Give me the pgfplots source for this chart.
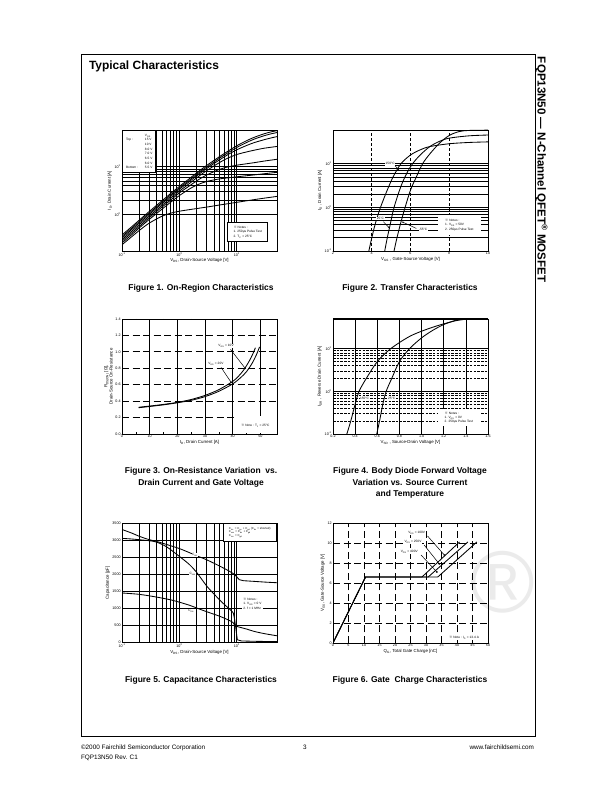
\documentclass[border=0pt]{standalone}
\usepackage{fontspec}
\setmainfont{Liberation Sans}
\newfontfamily\cjk{Noto Sans CJK SC}
\usepackage{pgfplots}
\pgfplotsset{compat=1.18}
\usetikzlibrary{arrows.meta}
\newcommand\rmk{{\cjk ※}}
\newcommand\tkf{\fontsize{3.7}{4}\selectfont}
\newcommand\nf{\fontsize{3.2}{4.2}\selectfont}
\tikzset{
 crv/.style={black, line width=0.85bp},
 gs/.style={black, line width=0.9bp, solid},
}
\pgfplotsset{
 ds/.style={
  scale only axis, width=155bp, height=121bp, anchor=north west,
  axis line style={line width=0.9bp},
  major tick length=0pt, minor tick length=0pt,
  tick label style={font=\tkf, inner sep=1.2bp},
  every axis label/.append style={font=\fontsize{4.4}{5.3}\selectfont},
  xlabel style={yshift=2.5bp}, ylabel style={yshift=-2bp},
 },
}
\begin{document}
\begin{tikzpicture}[x=1bp,y=1bp]
\path[use as bounding box, fill=white] (0,0) rectangle (612,792);
% watermark
\node[text=black!8, font=\fontsize{88}{88}\selectfont] at (503,792-582) {®};
% frame
\draw[line width=0.9bp] (81,792-54) rectangle (535,792-736);
\begin{scope}[every node/.style={inner sep=0pt, outer sep=0pt}]
\node[anchor=base west, font=\fontsize{12}{14}\selectfont\bfseries] at (89,792-69.5) {Typical Characteristics};
\node[rotate=-90, anchor=base west, font=\fontsize{11.6}{14}\selectfont\bfseries] at (537.5,792-57) {FQP13N50 — N-Channel QFET\textsuperscript{®} MOSFET};
% footer
\node[anchor=base west, font=\fontsize{6.4}{7}\selectfont] at (81,792-749.5) {©2000 Fairchild Semiconductor Corporation};
\node[anchor=base west, font=\fontsize{6.4}{7}\selectfont] at (81,792-759.5) {FQP13N50 Rev. C1};
\node[anchor=base, font=\fontsize{6.4}{7}\selectfont] at (305,792-749.5) {3};
\node[anchor=base east, font=\fontsize{6.4}{7}\selectfont] at (534,792-749.5) {www.fairchildsemi.com};
\end{scope}
% captions
\begin{scope}[every node/.style={font=\fontsize{8.5}{11.8}\selectfont\bfseries, align=center, inner sep=0pt}]
\node[anchor=base] at (201,792-290.5) {Figure 1. On-Region Characteristics};
\node[anchor=base] at (410,792-290.5) {Figure 2. Transfer Characteristics};
\node[anchor=north] at (201,792-467) {Figure 3. On-Resistance Variation~~vs.\\Drain Current and Gate Voltage};
\node[anchor=north] at (410,792-467) {Figure 4. Body Diode Forward Voltage\\Variation vs. Source Current\\and Temperature};
\node[anchor=base] at (201,792-683) {Figure 5. Capacitance Characteristics};
\node[anchor=base] at (410,792-683) {Figure 6. Gate~~Charge Characteristics};
\end{scope}

%%%%%%%%%%%%%%%% Figure 1
\begin{axis}[ds, at={(122bp,662bp)}, xmode=log, ymode=log,
  xmin=0.1, xmax=50, ymin=0.17, ymax=60,
  xtick={0.1,1,10}, xticklabels={10\textsuperscript{-1},10\textsuperscript{0},10\textsuperscript{1}},
  ytick={1,10}, yticklabels={10\textsuperscript{0},10\textsuperscript{1}},
  grid=both, major grid style={gs}, minor grid style={gs},
  xlabel={V\textsubscript{DS}, Drain-Source Voltage [V]},
  ylabel={I\textsubscript{D}, Drain Current [A]}]
\addplot[crv, smooth] coordinates {(0.1,0.37)(0.15,0.56)(0.2,0.76)(0.3,1.16)(0.5,1.95)(0.7,2.75)(1,3.9)(1.5,5.7)(2,7.5)(3,10.8)(5,16.5)(7,21.5)(10,28)(15,36)(20,42)(30,50)(40,55)(50,58)};
\addplot[crv, smooth] coordinates {(0.1,0.345)(0.15,0.52)(0.2,0.71)(0.3,1.08)(0.5,1.81)(0.7,2.56)(1,3.63)(1.5,5.3)(2,7.0)(3,10.0)(5,15.3)(7,19.9)(10,25.8)(15,33)(20,38.5)(30,45.5)(40,50)(50,53)};
\addplot[crv, smooth] coordinates {(0.1,0.32)(0.15,0.49)(0.2,0.66)(0.3,1.01)(0.5,1.7)(0.7,2.39)(1,3.4)(1.5,4.95)(2,6.5)(3,9.3)(5,14.1)(7,18.2)(10,23)(15,28.5)(20,32.5)(30,37.5)(40,41)(50,43.5)};
\addplot[crv, smooth] coordinates {(0.1,0.296)(0.15,0.45)(0.2,0.61)(0.3,0.93)(0.5,1.56)(0.7,2.2)(1,3.1)(1.5,4.5)(2,5.9)(3,8.4)(5,12.4)(7,15.4)(10,18.3)(15,20.8)(20,22.5)(30,24.8)(50,27)};
\addplot[crv, smooth] coordinates {(0.1,0.274)(0.15,0.415)(0.2,0.56)(0.3,0.86)(0.5,1.44)(0.7,2.0)(1,2.85)(1.5,4.0)(2,5.1)(3,6.8)(5,8.9)(7,10.0)(10,10.9)(15,11.7)(20,12.3)(30,13.3)(50,14.5)};
\addplot[crv, smooth] coordinates {(0.1,0.252)(0.15,0.38)(0.2,0.52)(0.3,0.79)(0.5,1.3)(0.7,1.8)(1,2.5)(1.5,3.45)(2,4.15)(3,4.95)(5,5.6)(7,5.9)(10,6.2)(20,6.8)(30,7.2)(50,7.7)};
\addplot[crv, smooth] coordinates {(0.1,0.23)(0.15,0.345)(0.2,0.46)(0.3,0.66)(0.5,0.92)(0.7,1.06)(1,1.17)(2,1.33)(3,1.43)(5,1.58)(10,1.8)(20,2.05)(30,2.2)(50,2.4)};
\node[draw, fill=white, line width=0.6bp, anchor=north west, inner sep=1.2bp,
  font=\fontsize{3.2}{4.7}\selectfont, minimum width=33bp, minimum height=42bp]
  at (rel axis cs:0.003,0.997)
  {\begin{tabular}{@{}l@{\hspace{7bp}}l@{}}
   & V\textsubscript{GS}\\
   Top : & 15 V\\ & 10 V\\ & 8.0 V\\ & 7.0 V\\ & 6.5 V\\ & 6.0 V\\
   Bottom : & 5.5 V
  \end{tabular}};
\node[draw, fill=white, line width=0.6bp, anchor=south west, inner sep=1.5bp, align=left,
  font=\nf, minimum width=40bp, minimum height=19bp]
  at (rel axis cs:0.68,0.074)
  {\rmk\ Notes :\\ 1. 250μs Pulse Test\\ 2. T\textsubscript{C} = 25°C};
\end{axis}

%%%%%%%%%%%%%%%% Figure 2
\begin{axis}[ds, at={(333bp,662bp)}, ymode=log,
  xmin=2, xmax=10, ymin=0.1, ymax=60,
  xtick={2,4,6,8,10}, xticklabels={2,4,6,8,10},
  ytick={0.1,1,10}, yticklabels={10\textsuperscript{-1},10\textsuperscript{0},10\textsuperscript{1}},
  ymajorgrids, yminorgrids,
  major grid style={gs}, minor grid style={gs},
  xlabel={V\textsubscript{GS} , Gate-Source Voltage [V]},
  ylabel={I\textsubscript{D} , Drain Current [A]}]
\draw[black, line width=0.6bp, dash pattern=on 3bp off 2bp] (axis cs:4,0.1) -- (axis cs:4,60);
\draw[black, line width=0.6bp, dash pattern=on 3bp off 2bp] (axis cs:6,0.1) -- (axis cs:6,60);
\draw[black, line width=0.6bp, dash pattern=on 3bp off 2bp] (axis cs:8,0.1) -- (axis cs:8,60);
\addplot[crv, smooth] coordinates {(3.85,0.1)(4.0,0.2)(4.2,0.45)(4.45,1.0)(4.8,2.5)(5.1,5)(5.5,10)(6.0,16)(6.5,21)(7.0,25)(8,29)(9,31)(10,32)};
\addplot[crv, smooth] coordinates {(4.67,0.1)(4.8,0.2)(4.95,0.4)(5.15,1)(5.5,3)(5.8,6)(6.1,10)(6.5,16)(7.0,25)(7.5,33)(8,39)(9,44)(10,46)};
\addplot[crv, smooth] coordinates {(5.15,0.1)(5.3,0.2)(5.5,0.45)(5.72,1)(6.0,2.5)(6.3,5)(6.62,10)(7.0,17)(7.5,30)(8,45)(8.5,55)(9,58.5)(10,59.5)};
\node[font=\nf, fill=white, inner sep=0.5bp] (a) at (axis cs:4.95,10) {150°C};
\draw[-{Stealth[length=2bp]}, line width=0.5bp] (axis cs:5.2,9) -- (axis cs:5.42,7.2);
\node[font=\nf, fill=white, inner sep=0.5bp] at (axis cs:4.45,0.55) {25°C};
\draw[-{Stealth[length=2bp]}, line width=0.5bp] (axis cs:4.6,0.47) -- (axis cs:4.93,0.33);
\node[font=\nf, fill=white, inner sep=0.5bp] at (axis cs:6.65,0.31) {-55°C};
\draw[-{Stealth[length=2bp]}, line width=0.5bp] (axis cs:6.3,0.33) -- (axis cs:5.55,0.47);
\node[fill=white, anchor=south west, inner sep=1.5bp, align=left, font=\nf,
  minimum width=43bp, minimum height=20bp]
  at (rel axis cs:0.675,0.13)
  {\rmk\ Notes :\\ 1. V\textsubscript{DS} = 50V\\ 2. 250μs Pulse Test};
\end{axis}

%%%%%%%%%%%%%%%% Figure 3
\begin{axis}[ds, at={(122bp,473bp)}, height=115bp,
  xmin=0, xmax=56, ymin=0, ymax=1.4,
  xtick={0,10,20,30,40,50}, xticklabels={0,10,20,30,40,50},
  minor x tick num=1, minor tick length=1.5bp,
  minor tick style={black, line width=0.5bp},
  ytick={0,0.2,0.4,0.6,0.8,1.0,1.2,1.4},
  yticklabels={0.0,0.2,0.4,0.6,0.8,1.0,1.2,1.4},
  xmajorgrids, ymajorgrids,
  x grid style={gs}, y grid style={black, line width=0.8bp, dash pattern=on 7bp off 3.5bp},
  xlabel={I\textsubscript{D}, Drain Current [A]},
  ylabel style={align=center},
  ylabel={R\textsubscript{DS(ON)} [Ω],\\Drain-Source On-Resistance}]
\fill[white] (axis cs:40.3,0.006) rectangle (axis cs:55.85,0.215);
\addplot[crv, smooth] coordinates {(6,0.32)(10,0.335)(15,0.355)(20,0.38)(25,0.41)(30,0.455)(35,0.52)(40,0.61)(43,0.69)(45,0.76)(47,0.86)(48.5,0.96)(49.7,1.06)};
\addplot[crv, smooth] coordinates {(6,0.325)(10,0.34)(15,0.36)(20,0.385)(25,0.42)(30,0.47)(35,0.54)(40,0.64)(42,0.7)(44,0.78)(46,0.89)(47.2,0.97)(48.2,1.05)};
\node[font=\nf, fill=white, inner sep=0.6bp] at (axis cs:37.6,1.07) {V\textsubscript{GS} = 10V};
\draw[line width=0.5bp] (axis cs:39.2,1.03) -- (axis cs:44.5,0.8);
\fill (axis cs:44.5,0.8) circle (0.9bp);
\node[font=\nf, fill=white, inner sep=0.6bp] at (axis cs:33.9,0.85) {V\textsubscript{GS} = 20V};
\draw[line width=0.5bp] (axis cs:35.8,0.81) -- (axis cs:39.4,0.63);
\fill (axis cs:39.4,0.63) circle (0.9bp);
\node[font=\nf] at (axis cs:48.2,0.1) {\rmk\ Note : T\textsubscript{J} = 25°C};
\end{axis}

%%%%%%%%%%%%%%%% Figure 4
\begin{axis}[ds, at={(333bp,473bp)}, height=115bp, ymode=log,
  xmin=0.2, xmax=1.6, ymin=0.1, ymax=50,
  xtick={0.2,0.4,0.6,0.8,1.0,1.2,1.4,1.6},
  xticklabels={0.2,0.4,0.6,0.8,1.0,1.2,1.4,1.6},
  ytick={0.1,1,10}, yticklabels={10\textsuperscript{-1},10\textsuperscript{0},10\textsuperscript{1}},
  xmajorgrids, ymajorgrids, yminorgrids,
  major grid style={black, line width=0.9bp},
  minor grid style={black, line width=0.6bp, dash pattern=on 2.5bp off 1.2bp},
  x grid style={black, line width=0.5bp},
  xlabel={V\textsubscript{SD} , Source-Drain Voltage [V]},
  ylabel={I\textsubscript{DR} , Reverse Drain Current [A]}]
\addplot[crv, smooth] coordinates {(0.325,0.1)(0.36,0.2)(0.4,0.5)(0.435,1)(0.5,2)(0.6,5)(0.72,10)(0.9,20)(1.1,32)(1.3,45)(1.42,50)};
\addplot[crv, smooth] coordinates {(0.595,0.1)(0.62,0.2)(0.65,0.5)(0.68,1)(0.73,2)(0.8,5)(0.89,10)(1.0,18)(1.1,27)(1.2,37)(1.3,46)(1.36,50)};
\draw[line width=1.4bp] (rel axis cs:0,1) -- (rel axis cs:1,1);
\node[font=\nf, fill=white, inner sep=0.5bp] at (axis cs:0.485,0.7) {150°C};
\node[font=\nf, fill=white, inner sep=0.5bp] at (axis cs:0.73,0.7) {25°C};
\node[fill=white, anchor=south west, inner sep=1.5bp, align=left, font=\nf,
  minimum width=42bp, minimum height=17bp]
  at (rel axis cs:0.675,0.067)
  {\rmk\ Notes :\\ 1. V\textsubscript{GS} = 0V\\ 2. 250μs Pulse Test};
\end{axis}

%%%%%%%%%%%%%%%% Figure 5
\begin{axis}[ds, at={(122bp,269bp)}, height=119.5bp, xmode=log,
  xmin=0.1, xmax=50, ymin=0, ymax=3500,
  xtick={0.1,1,10}, xticklabels={10\textsuperscript{-1},10\textsuperscript{0},10\textsuperscript{1}},
  ytick={0,500,1000,1500,2000,2500,3000,3500},
  yticklabels={0,500,1000,1500,2000,2500,3000,3500},
  xmajorgrids, xminorgrids, ymajorgrids,
  grid style={gs}, minor grid style={gs},
  xlabel={V\textsubscript{DS}, Drain-Source Voltage [V]},
  ylabel={Capacitance [pF]}]
\addplot[crv, smooth] coordinates {(0.1,3310)(0.15,3200)(0.2,3110)(0.3,3010)(0.4,2960)(0.6,2870)(1,2750)(1.5,2630)(2,2540)(3,2420)(5,2240)(7,2110)(9,2000)};
\addplot[crv] coordinates {(9,2000)(10,1920)(11,1840)(13,1810)(20,1790)(30,1770)(50,1750)};
\addplot[crv, smooth] coordinates {(0.1,3050)(0.15,3030)(0.2,3010)(0.3,2980)(0.4,2940)(0.6,2800)(1,2520)(1.5,2280)(2,2050)(3,1650)(4,1420)(5,1250)(6,1120)(7,1020)(8,930)(8.7,860)};
\addplot[crv] coordinates {(8.7,860)(9.2,650)(9.7,350)(10.2,80)(12,45)(20,35)(50,25)};
\addplot[crv, smooth] coordinates {(0.1,1450)(0.2,1410)(0.4,1330)(0.7,1250)(1,1180)(1.5,1090)(2,1010)(3,900)(5,770)(7,665)(8.5,590)(9.1,520)(10,470)};
\addplot[crv, smooth] coordinates {(10,470)(15,390)(20,325)(30,260)(50,196)};
\node[font=\nf, fill=white, inner sep=0.4bp] at (axis cs:1.85,2560) {C\textsubscript{iss}};
\node[font=\nf, fill=white, inner sep=0.4bp] at (axis cs:1.7,2000) {C\textsubscript{oss}};
\node[font=\nf, fill=white, inner sep=0.4bp] at (axis cs:1.6,930) {C\textsubscript{rss}};
\node[draw, fill=white, line width=0.6bp, anchor=north east, inner sep=1.2bp, align=left,
  font=\fontsize{2.9}{3.6}\selectfont, minimum width=53bp, minimum height=18bp]
  at (rel axis cs:0.997,0.997)
  {C\textsubscript{iss} = C\textsubscript{gs} + C\textsubscript{gd} (C\textsubscript{ds} = shorted)\\
   C\textsubscript{oss} = C\textsubscript{ds} + C\textsubscript{gd}\\
   C\textsubscript{rss} = C\textsubscript{gd}};
\node[fill=white, anchor=south west, inner sep=1.2bp, align=left, font=\nf,
  minimum width=20bp, minimum height=15bp]
  at (rel axis cs:0.774,0.26)
  {\rmk\ Notes :\\ 1. V\textsubscript{GS} = 0 V\\ 2. f = 1 MHz};
\end{axis}

%%%%%%%%%%%%%%%% Figure 6
\begin{axis}[ds, at={(333bp,269bp)}, height=120bp,
  xmin=0, xmax=50, ymin=0, ymax=12,
  xtick={0,5,10,15,20,25,30,35,40,45,50},
  xticklabels={0,5,10,15,20,25,30,35,40,45,50},
  ytick={0,2,4,6,8,10,12}, yticklabels={0,2,4,6,8,10,12},
  grid=major, grid style={black, line width=0.8bp, dash pattern=on 7bp off 3.5bp},
  xlabel={Q\textsubscript{G}, Total Gate Charge [nC]},
  ylabel={V\textsubscript{GS}, Gate-Source Voltage [V]}]
\addplot[crv] coordinates {(0,0)(10.5,6.6)(28.7,6.6)(40.8,10.1)};
\addplot[crv] coordinates {(0,0)(10.5,6.6)(30.7,6.6)(43.5,10.1)};
\addplot[crv] coordinates {(0,0)(10.5,6.6)(33.8,6.6)(46.4,10.1)};
\node[font=\nf, fill=white, inner sep=0.6bp] at (axis cs:27,11.0) {V\textsubscript{DS} = 100V};
\node[font=\nf, fill=white, inner sep=0.6bp] at (axis cs:25.8,10.1) {V\textsubscript{DS} = 250V};
\node[font=\nf, fill=white, inner sep=0.6bp] at (axis cs:24.6,9.1) {V\textsubscript{DS} = 400V};
\draw[line width=0.5bp] (axis cs:30.5,10.7) -- (axis cs:35.9,8.8);
\draw[line width=0.5bp] (axis cs:29.4,9.8) -- (axis cs:34.3,7.9);
\draw[line width=0.5bp] (axis cs:28.4,8.8) -- (axis cs:33.5,7.1);
\fill (axis cs:35.9,8.8) circle (0.9bp);
\fill (axis cs:34.3,7.9) circle (0.9bp);
\fill (axis cs:33.5,7.1) circle (0.9bp);
\node[font=\nf, fill=white, inner sep=0.8bp] at (axis cs:42.3,0.5) {\rmk\ Note : I\textsubscript{D} = 13.4 A};
\end{axis}
\end{tikzpicture}
\end{document}
